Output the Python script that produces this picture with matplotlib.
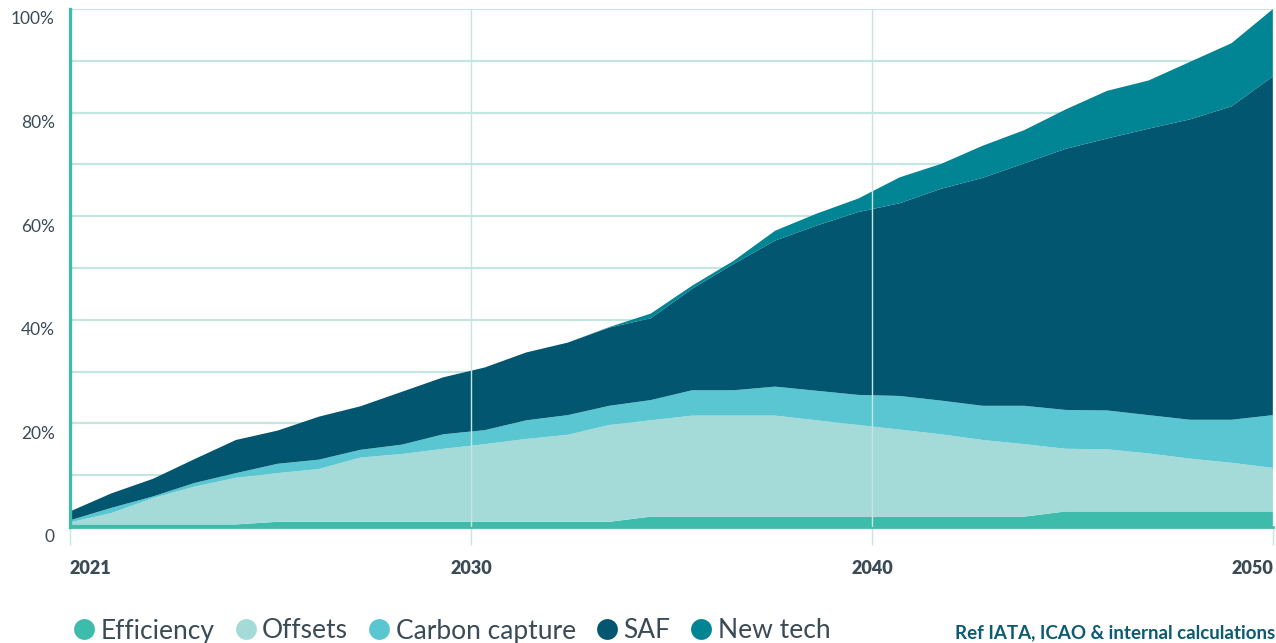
import matplotlib.pyplot as plt
from matplotlib.lines import Line2D
import matplotlib.transforms as mtransforms

plt.rcParams['font.family'] = ['Lato', 'DejaVu Sans']

# -----------------------------------------------------------------------------
# DATA (share of required CO2 mitigation, %)
# -----------------------------------------------------------------------------
years = list(range(2021, 2051))
tick_labels = ['2021', '2030', '2040', '2050']

efficiency = [0.5, 0.5, 0.5, 0.5, 0.5, 1.0, 1.0, 1.0, 1.0, 1.0,
              1.0, 1.0, 1.0, 1.0, 2.0, 2.0, 2.0, 2.0, 2.0, 2.0,
              2.0, 2.0, 2.0, 2.0, 3.0, 3.0, 3.0, 3.0, 3.0, 3.0]
offsets = [0.4, 2.2, 5.1, 7.3, 9.0, 9.4, 10.2, 12.4, 13.1, 14.1,
           15.0, 16.0, 16.8, 18.7, 18.6, 19.5, 19.5, 19.5, 18.6, 17.7,
           16.8, 15.9, 14.8, 14.0, 12.1, 12.0, 11.2, 10.2, 9.4, 8.4]
carbon_capture = [0.4, 1.0, 0.3, 0.7, 0.9, 1.8, 1.8, 1.5, 1.8, 2.8,
                  2.7, 3.6, 3.8, 3.7, 3.9, 4.9, 4.9, 5.6, 5.7, 5.8,
                  6.5, 6.5, 6.6, 7.4, 7.5, 7.5, 7.4, 7.5, 8.3, 10.2]
saf = [1.7, 2.8, 3.4, 4.6, 6.4, 6.4, 8.3, 8.4, 10.2, 11.0,
       12.1, 13.1, 14.0, 15.1, 15.8, 19.6, 24.4, 28.2, 31.9, 35.3,
       37.2, 40.9, 44.0, 46.8, 50.4, 52.5, 55.3, 58.0, 60.5, 65.4]
new_tech = [0, 0, 0, 0, 0, 0, 0, 0, 0, 0,
            0, 0, 0, 0.1, 0.9, 0.6, 0.6, 1.9, 2.3, 2.6,
            5.0, 4.8, 6.2, 6.4, 7.6, 9.2, 9.3, 11.1, 12.2, 13.0]

series_names = ['Efficiency', 'Offsets', 'Carbon capture', 'SAF', 'New tech']
colors = ['#3dbcab', '#a4dbd8', '#5ac6d1', '#02566f', '#018494']

text_col = '#3b4b56'
axis_col = '#45b9a9'
grid_col = '#c3e6e0'

# -----------------------------------------------------------------------------
# PLOT
# -----------------------------------------------------------------------------
fig = plt.figure(figsize=(12.76, 6.43), dpi=100)
ax = fig.add_axes([70 / 1276, 1 - 527 / 643, 1203 / 1276, 518 / 643])

x = list(range(len(years)))
ax.stackplot(x, efficiency, offsets, carbon_capture, saf, new_tech,
             colors=colors, linewidth=0, zorder=2)

ax.set_xlim(0, len(years) - 1)
ax.set_ylim(0, 100)

# horizontal grid behind the areas
ax.set_yticks(range(0, 101, 10), minor=True)
ax.set_yticks(range(0, 101, 20))
ax.set_yticklabels(['0', '20%', '40%', '60%', '80%', '100%'])
ax.yaxis.grid(True, which='both', color=grid_col, linewidth=1.6, zorder=0)
ax.set_axisbelow(True)
ax.tick_params(axis='y', which='both', length=0, pad=11, labelsize=12.5,
               labelcolor=text_col)
offset = mtransforms.ScaledTranslation(0, -9 / 100, fig.dpi_scale_trans)
for lab in ax.get_yticklabels():
    lab.set_transform(lab.get_transform() + offset)

# x ticks at the thirds of the axis, vertical lines on top of the areas
xmax = len(years) - 1
xt = [0, xmax / 3, 2 * xmax / 3, xmax]
ax.set_xticks(xt)
ax.set_xticklabels(tick_labels, fontweight='heavy')
ax.tick_params(axis='x', length=13, width=1, color=grid_col, pad=11,
               labelsize=13, labelcolor=text_col)
xlabs = ax.get_xticklabels()
xlabs[0].set_ha('left')
xlabs[-1].set_ha('right')
for xv in xt[1:]:
    ax.axvline(xv, color=grid_col, linewidth=1, zorder=3)

for side in ['top', 'right']:
    ax.spines[side].set_visible(False)
ax.spines['left'].set_color(axis_col)
ax.spines['left'].set_linewidth(2.4)
ax.spines['bottom'].set_color(axis_col)
ax.spines['bottom'].set_linewidth(2.0)
ax.spines['left'].set_zorder(4)

# legend
handles = [Line2D([], [], marker='o', linestyle='', markersize=15,
                  markerfacecolor=c, markeredgewidth=0) for c in colors]
fig.legend(handles, series_names, loc='center left',
           bbox_to_anchor=(61 / 1276, 1 - 631 / 643), ncol=5, frameon=False,
           fontsize=19, handlelength=0.75, handletextpad=0.25,
           columnspacing=0.8, borderpad=0, labelcolor=text_col)

fig.text(1 - 1 / 1276, 1 - 633 / 643, 'Ref IATA, ICAO & internal calculations',
         ha='right', va='center', fontsize=13.5, fontweight='bold',
         color='#0d5b72')

fig.savefig('out.png', dpi=100)
